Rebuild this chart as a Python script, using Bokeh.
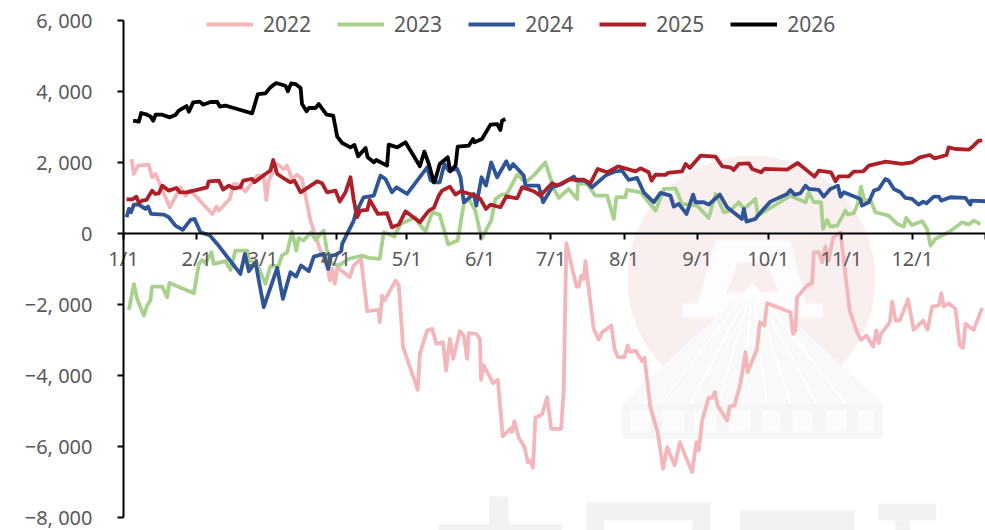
from bokeh.plotting import figure
from bokeh.models import Range1d, FixedTicker, Legend, LegendItem
from bokeh.embed import file_html
from bokeh.resources import INLINE

tick_days = [0, 31, 59, 90, 120, 151, 181, 212, 243, 273, 304, 334, 365]
tick_names = ["1/1", "2/1", "3/1", "4/1", "5/1", "6/1", "7/1", "8/1", "9/1", "10/1", "11/1", "12/1", ""]
y_ticks = [6000, 4000, 2000, 0, -2000, -4000, -6000, -8000]
y_names = ["6, 000", "4, 000", "2, 000", "0", "\u22122, 000", "\u22124, 000", "\u22126, 000", "\u22128, 000"]

d2022 = [3.4,4.4,6.2,10.7,12.1,13.6,19.6,24.1,26.3,28.4,37.6,39.4,40.4,45,46.7,48.1,51.7,56.6,59.4,60.5,61.5,65.1,67.9,69.3,71.4,73.5,75.6,79.2,83.4,86.5,87.4,88.3,89.5,90.5,95.8,97.5,100.6,103.2,108.1,108.5,109.5,110.5,115.2,116.6,118.4,124.6,125.5,128.6,130.7,132.5,135.3,136.6,138.2,139.6,142.4,144.1,145.5,146.2,149.4,150.9,151.4,152.5,156.5,158.5,160.6,163.8,164.5,165.5,167.4,169.8,171.2,172.3,173.4,174.4,177.2,179.4,181.1,185.3,186.4,187.5,191.8,192.8,193.8,194.9,195.6,199.1,201.2,202.7,206.6,207.9,209.4,212.1,213.5,214.6,216.8,219.6,220.6,223.1,226.2,228.5,230.2,233.4,235.6,237.2,240.8,242.6,243.6,245,247.8,249.2,250.4,251.6,255.6,256.7,258.7,261.2,263.4,264.3,268.3,269.4,271.4,272.5,282.4,283.5,284.5,285.2,289.5,291.6,292.3,294.4,295.8,297.2,298.6,300.5,303.6,305.3,307.5,310.6,312.3,314.6,317.4,318.8,319.8,320.8,324.5,325.5,326.9,328.7,332.2,334.6,338.6,340.5,342.4,345.2,346.3,347.3,349.4,352.3,354.1,355.5,356.5,360,363.6]
v2022 = [2103,1681,1916,1944,1587,1681,742,1305,1070,1211,554,761,648,977,1399,1399,1193,1634,1634,948,1493,1963,1822,1916,1540,1662,1540,366,-480,-995,-1324,-995,-1418,-948,-1230,-901,-714,-2188,-2150,-2498,-1747,-1887,-1324,-1465,-3202,-4404,-3390,-2733,-2686,-3108,-3061,-3859,-2967,-3531,-2751,-2873,-3531,-2808,-2826,-2967,-4122,-3718,-4216,-4122,-5719,-5503,-5596,-5287,-5756,-6019,-6442,-6395,-6601,-5193,-5099,-4610,-5503,-5503,-4423,-272,-1493,-1493,-1183,-1277,-779,-2686,-2995,-2779,-2592,-3249,-3484,-3484,-3155,-3343,-3296,-3596,-3502,-4892,-5596,-6630,-6019,-6536,-5878,-6160,-6723,-5878,-6113,-5268,-4629,-4629,-4470,-4845,-5268,-4873,-4845,-4235,-3343,-3906,-3249,-2498,-2592,-1963,-2216,-2826,-2733,-1794,-1465,-1399,-526,-526,-808,-366,-761,-103,38,-948,-2169,-2779,-2995,-2873,-3183,-2733,-3089,-2826,-2498,-1916,-2451,-2451,-1859,-2714,-2451,-2714,-2056,-2028,-1681,-2056,-1963,-2122,-3155,-3221,-2545,-2714,-2094]

d2023 = [2.3,4.4,5.8,8.6,10,11.4,12.1,16.4,18.5,19.5,29.8,31.9,33.3,34.7,37.3,38.2,43.2,45.3,47.4,52.4,53.1,56.6,60.1,62.2,65.7,67.1,69.3,71.4,73.2,74.2,76.3,79.4,81.3,84.8,86.9,91.1,95.4,98.2,101,103.8,108.5,110.2,114.7,117.3,123.6,125,127.9,130.7,133.9,137.5,141.5,144.1,146.2,149,151.6,155.7,157.5,160.3,162.4,166.7,170.2,173.7,178.7,182.2,184.3,188.5,192.1,192.4,196.3,199.8,204.8,207.6,208.7,212.5,213.2,218.9,225.3,228.8,233.7,236.5,242.9,247.8,250.7,254.2,257,260.5,262.7,267.6,268.6,273.9,282.4,288.8,290.2,292.3,295.4,296.2,297.9,299.3,302.2,305.7,306.7,309.2,310.9,312.3,313.7,316.3,318.4,324,327.6,330.4,331.4,333.9,338.2,340.3,341.7,343.8,349.4,352.3,355.1,357.9,360,362.9]
v2023 = [-2150,-1418,-1840,-2310,-2028,-1887,-1493,-1493,-1794,-1390,-1681,-855,-742,-836,-526,-855,-779,-1024,-479,-479,-761,-855,-1418,-920,-901,-620,-526,56,-479,-122,-197,38,-178,85,-808,-901,-714,-667,-620,-685,-714,38,-85,272,460,291,66,601,535,-310,-197,836,977,648,-150,366,977,1099,1117,1662,1446,1634,2009,1258,1005,1258,977,1399,1399,1070,1070,413,1024,1024,1230,1164,648,1258,1277,836,789,441,1117,601,648,883,695,977,507,723,1070,883,1164,883,883,131,385,197,225,648,535,573,836,1324,930,948,601,507,272,197,441,244,347,131,-338,-150,38,178,319,254,366,272]

d2024 = [1.3,2.3,3.2,4.4,6.5,9.3,10.4,11.7,17.1,19.2,22,25.1,28.4,30.1,32.6,36.6,39.7,49.5,51.4,53.1,55.9,59.4,65.1,67.5,70.7,73.1,75.2,78.5,80.6,84.8,86.7,87.9,89.8,92.2,92.6,97.5,98.2,101.7,106,108.8,110.9,113.7,115.6,120.1,128.6,130,131.4,133.9,135.9,137.7,141.3,142.7,144.1,148.3,149.4,151.6,153.5,155.7,158.2,162.1,163.6,165,169.5,170.2,175.8,177.7,181.5,185.7,190.7,191.8,194.9,196.3,198.4,204.1,208.3,211.1,213.9,217.5,220.3,224.5,227.4,231.6,233,235.1,238.4,241.2,242.2,245.7,247.8,252.5,255.6,261.9,262.7,263.8,267.6,268.6,273.9,281,282.4,284.1,286.6,288.8,290.2,294.4,296.5,299.3,302.5,303.6,305,312,312.7,315.6,317.7,319.8,322.6,324,326.2,329,331.1,333.9,336.7,338.6,340,343.1,345.2,346.3,350.1,356.5,358.6,358.9,365]
v2024 = [460,695,601,817,817,695,761,554,535,460,225,103,385,413,38,-56,-291,-1136,-573,-1061,-808,-2075,-967,-1840,-1089,-1211,-901,-1061,-648,-573,-995,-620,-601,-498,-291,366,554,1024,1070,1634,1540,1164,1305,1117,1869,1512,1446,1446,1962,1775,1822,1587,883,1117,789,1587,1352,2009,1587,2038,1822,1962,1634,1352,1352,883,1305,1399,1606,1493,1493,1446,1305,1634,1756,1775,1512,1568,1164,883,1146,1070,761,836,554,1099,883,883,817,1099,742,413,695,338,413,507,901,1117,1230,1099,1136,1352,1258,1230,1042,1258,1352,1042,1164,977,789,883,1211,1258,1540,1493,1258,1164,1005,977,817,901,855,1042,1042,930,1024,1005,817,930,911]

d2025 = [1.3,3.7,5.5,6.5,7.9,9.7,12.1,13.5,15,16.4,19.2,22.4,23.9,26.7,35.4,36.1,40.4,42.2,44.6,46.7,49.5,50.7,54.5,55.5,60.1,62.2,63.4,65.1,67.2,70.7,72.4,75,82,84.1,86.2,89.8,91.6,94,96.1,97.5,98.9,100.3,103.2,104.3,107.7,111.6,113.7,116.6,119.4,125.5,129.3,131.4,133.5,134.9,138.2,140.6,142.7,149,151.1,153.5,155.4,159.6,162.1,166.7,168.8,173.7,176.5,181.5,183.6,188.5,194.9,197.7,200.8,204.8,209.4,216.8,218.9,222.4,223.6,225.3,229.5,230.5,236.5,238,239.8,244.3,250.7,253.5,257,258.4,260.5,264.8,266.2,270,271.4,281,285.5,289.5,292.6,294.4,299.6,301.5,302.9,307.1,309.2,313.2,315.6,320.5,322.6,329.7,333.9,337.2,341.4,343.5,348.5,349.4,352.3,357.9,360,362.1,363.6]
v2025 = [967,967,1042,864,930,948,1211,1117,1136,1352,1211,1286,1164,1164,1305,1474,1493,1239,1352,1277,1305,1493,1540,1446,1681,1775,2075,1681,1587,1446,1493,1164,1474,1418,1164,1211,901,1164,1587,958,460,648,667,948,554,573,178,254,629,319,648,723,1070,1211,1324,1099,1193,1070,977,695,817,742,1052,995,1305,1193,1070,1418,1352,1521,1521,1418,1822,1728,1897,1756,1840,1728,1493,1662,1653,1709,1756,1963,1850,2197,2169,1897,1869,1794,1963,1981,1822,1728,1822,1803,1991,1775,1606,1775,1728,1474,1615,1615,1747,1756,1916,1991,2028,1963,2009,2150,2216,2122,2216,2432,2385,2366,2479,2620,2620]

d2026 = [4.1,6.5,7.5,10,11.4,12.6,13.6,16.4,19.6,22,23.4,26.7,27.7,29.5,32.3,33.7,36.8,39.7,40.8,43.2,46.7,54.5,56.9,60.1,62.2,64.6,68.6,69.6,71,72.8,75,75.6,77.5,78.5,81.3,82.7,86,88.8,90.5,92.6,96.1,97.8,99.4,102.5,103.4,106,107,111.6,112.3,115.9,119.4,125.5,127.4,129.3,131.4,132.1,133.9,137.3,138.4,140.6,141.5,146.2,148,148.6,151.8,155.4,158.2,159.6,160.3,161.7]
v2026 = [3183,3155,3399,3352,3305,3183,3352,3352,3277,3343,3465,3596,3437,3700,3718,3634,3709,3709,3578,3606,3540,3390,3934,3953,4122,4244,4169,4010,4235,4216,4103,3653,3446,3540,3540,3653,3352,3324,2732,2554,2432,2498,2178,2413,2150,2009,2075,1916,2507,2432,2573,1897,2310,1962,1446,1540,1962,2150,1756,1916,2451,2479,2667,2573,2667,3071,3089,2920,3183,3230]

series = [("2022", d2022, v2022, "#F3B7BB"), ("2023", d2023, v2023, "#A9D18E"),
          ("2024", d2024, v2024, "#2F5597"), ("2025", d2025, v2025, "#AE1F27"),
          ("2026", d2026, v2026, "#000000")]

# the frame fills the page so that texts outside the plotted span are not clipped
p = figure(width=985, height=530, output_backend="svg", toolbar_location=None,
           x_range=Range1d(-52.07, 365), y_range=Range1d(-8370, 6571),
           min_border_left=0, min_border_right=0, min_border_top=0, min_border_bottom=0,
           background_fill_color=None, border_fill_color="white")
p.grid.visible = False
p.outline_line_color = None

# faint watermark behind the chart (pixel helpers, decoration only)
fx = lambda px: (px - 123) / 2.362
fy = lambda py: (233.1 - py) * 28.19


def poly(xs, ys, color):
    p.patch(x=[fx(v) for v in xs], y=[fy(v) for v in ys], fill_color=color, line_color=None)


p.circle(x=[fx(751)], y=[fy(279)], radius=124 / 2.362, fill_color="#FAEFEF", line_color=None)
poly((682, 822, 822, 806, 790, 715, 697, 682), (317, 317, 303, 303, 240, 240, 303, 303), "#FEFCFC")
poly((726, 778, 766, 738), (292, 292, 262, 262), "#FAEFEF")
poly((622, 752, 882), (403, 283, 403), "#F9F9F9")
for px in (660, 690, 718, 742, 766, 790, 816, 845):
    p.line(x=[fx(752), fx(px)], y=[fy(284), fy(403)], line_color="#FFFFFF", line_width=2)
poly((622, 882, 882, 622), (403, 403, 438, 438), "#F6F6F6")
for a, b in ((630, 650), (662, 684), (694, 716), (728, 750), (762, 780), (792, 812), (826, 846), (858, 874)):
    poly((a, b, b, a), (410, 410, 431, 431), "#FCFCFC")
for a, b, c, d, col in ((489, 508, 496, 530, "#F2F2F2"), (438, 562, 524, 530, "#F2F2F2"), (586, 710, 502, 530, "#F2F2F2"),
                        (604, 692, 520, 530, "#FFFFFF"), (740, 854, 510, 530, "#F2F2F2"),
                        (878, 936, 503, 520, "#F2F2F2"), (895, 910, 520, 530, "#F2F2F2")):
    poly((a, b, b, a), (c, c, d, d), col)

items = []
for name, d, v, c in series:
    r = p.line(d, v, line_color=c, line_width=3.8, line_join="round")
    items.append(LegendItem(label=name, renderers=[r]))

lg = Legend(items=items, orientation="horizontal", location=(206, 492), glyph_width=47, glyph_height=8,
            label_standoff=10, spacing=26, padding=0, margin=0, border_line_color=None,
            background_fill_alpha=0, label_text_font="Noto Sans", label_text_font_size="21px",
            label_text_color="#595959", label_height=24)
p.add_layout(lg, "center")

ax = p.xaxis[0]
ax.fixed_location = 0
ax.bounds = (0, 365)
ax.ticker = FixedTicker(ticks=tick_days)
ax.major_label_overrides = {d: n for d, n in zip(tick_days, tick_names)}
ax.minor_tick_line_color = None
ax.major_tick_in = 0
ax.major_tick_out = 6
ax.major_tick_line_color = "black"
ax.major_tick_line_width = 2
ax.axis_line_color = "black"
ax.axis_line_width = 2
ax.major_label_standoff = 5
ax.major_label_text_font = "Noto Sans"
ax.major_label_text_font_size = "20px"
ax.major_label_text_color = "#595959"

ay = p.yaxis[0]
ay.fixed_location = 0
ay.bounds = (-8000, 6000)
ay.ticker = FixedTicker(ticks=y_ticks)
ay.major_label_overrides = {t: n for t, n in zip(y_ticks, y_names)}
ay.minor_tick_line_color = None
ay.major_tick_in = 0
ay.major_tick_out = 6
ay.major_tick_line_color = "black"
ay.major_tick_line_width = 2
ay.axis_line_color = "black"
ay.axis_line_width = 2
ay.major_label_standoff = 25
ay.major_label_text_font = "Noto Sans"
ay.major_label_text_font_size = "20px"
ay.major_label_text_color = "#595959"

open("out.html", "w").write(file_html(p, INLINE))
